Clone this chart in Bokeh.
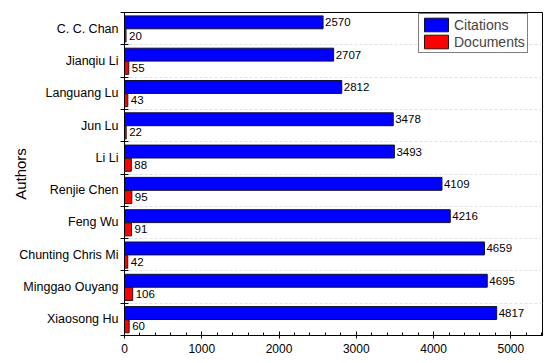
from bokeh.plotting import figure
from bokeh.models import (ColumnDataSource, FixedTicker, SingleIntervalTicker,
                          Range1d, Legend, LegendItem)
from bokeh.transform import dodge
from bokeh.core.properties import value
from bokeh.embed import file_html
from bokeh.resources import INLINE

# ---- data (bottom to top) ----
authors = ["Xiaosong Hu", "Minggao Ouyang", "Chunting Chris Mi", "Feng Wu",
           "Renjie Chen", "Li Li", "Jun Lu", "Languang Lu", "Jianqiu Li",
           "C. C. Chan"]
citations = [4817, 4695, 4659, 4216, 4109, 3493, 3478, 2812, 2707, 2570]
documents = [60, 106, 42, 91, 95, 88, 22, 43, 55, 20]
series_names = ["Citations", "Documents"]
y_label = "Authors"

FONT = "Liberation Sans"

pos = list(range(len(authors)))
src = ColumnDataSource(dict(
    pos=pos,
    cit=citations,
    doc=documents,
    cit_s=[str(v) for v in citations],
    doc_s=[str(v) for v in documents],
))

p = figure(width=544, height=363,
           x_range=Range1d(0, 5410), y_range=Range1d(-0.5, len(authors) - 0.5),
           output_backend="svg", toolbar_location=None,
           min_border_left=124, min_border_right=2,
           min_border_top=12, min_border_bottom=28)

r1 = p.hbar(y=dodge("pos", 0.195), right="cit", left=0, height=0.4, source=src,
            fill_color="#0000ff", line_color="#101030", line_width=1)
r2 = p.hbar(y=dodge("pos", -0.215), right="doc", left=0, height=0.4, source=src,
            fill_color="#ff0000", line_color="#301010", line_width=1)

p.text(x="cit", y=dodge("pos", 0.195), text="cit_s", source=src, x_offset=2,
       text_baseline="middle", text_align="left", text_font=value(FONT),
       text_font_size="11.5px", text_color="black")
p.text(x="doc", y=dodge("pos", -0.215), text="doc_s", source=src, x_offset=3,
       text_baseline="middle", text_align="left", text_font=value(FONT),
       text_font_size="11.5px", text_color="black")

# y axis: labels at centres, tick marks at boundaries
yt = FixedTicker(ticks=pos, minor_ticks=[i - 0.5 for i in range(len(authors) + 1)])
p.yaxis.ticker = yt
p.yaxis.major_label_overrides = {i: a for i, a in zip(pos, authors)}
p.yaxis.major_tick_line_color = None
p.yaxis.major_tick_in = 0
p.yaxis.major_tick_out = 0
p.yaxis.minor_tick_in = 4
p.yaxis.minor_tick_out = 4
p.yaxis.minor_tick_line_color = "black"
p.yaxis.major_label_text_font = FONT
p.yaxis.major_label_text_font_size = "12.5px"
p.yaxis.major_label_text_color = "black"
p.yaxis.major_label_standoff = 2
p.yaxis.axis_label = y_label
p.yaxis.axis_label_text_font = FONT
p.yaxis.axis_label_text_font_size = "15px"
p.yaxis.axis_label_text_font_style = "normal"
p.yaxis.axis_label_text_color = "black"
p.yaxis.axis_label_standoff = -13
p.yaxis.axis_line_color = "black"

# x axis
p.xaxis.ticker = SingleIntervalTicker(interval=1000, num_minor_ticks=5)
p.xaxis.major_tick_in = 4
p.xaxis.major_tick_out = 3
p.xaxis.minor_tick_in = 3
p.xaxis.minor_tick_out = 0
p.xaxis.major_tick_line_color = "black"
p.xaxis.minor_tick_line_color = "black"
p.xaxis.major_label_text_font = FONT
p.xaxis.major_label_text_font_size = "12px"
p.xaxis.major_label_text_color = "black"
p.xaxis.major_label_standoff = 5
p.xaxis.axis_line_color = "black"

# grids
p.xgrid.grid_line_color = None
p.ygrid.ticker = yt
p.ygrid.grid_line_color = None
p.ygrid.minor_grid_line_color = "#e2e2e2"
p.ygrid.minor_grid_line_dash = "3 2"

p.outline_line_color = "black"
p.outline_line_alpha = 1
p.outline_line_width = 1
p.background_fill_color = "white"

legend = Legend(items=[LegendItem(label=series_names[0], renderers=[r1]),
                       LegendItem(label=series_names[1], renderers=[r2])],
                location=(294, 282), margin=0, padding=2, spacing=0,
                glyph_width=30, glyph_height=17, label_standoff=3,
                label_text_font=FONT, label_text_font_size="14px",
                label_height=17, border_line_color="black", border_line_width=1,
                background_fill_alpha=1)
p.add_layout(legend)

open("out.html", "w").write(file_html(p, INLINE))
